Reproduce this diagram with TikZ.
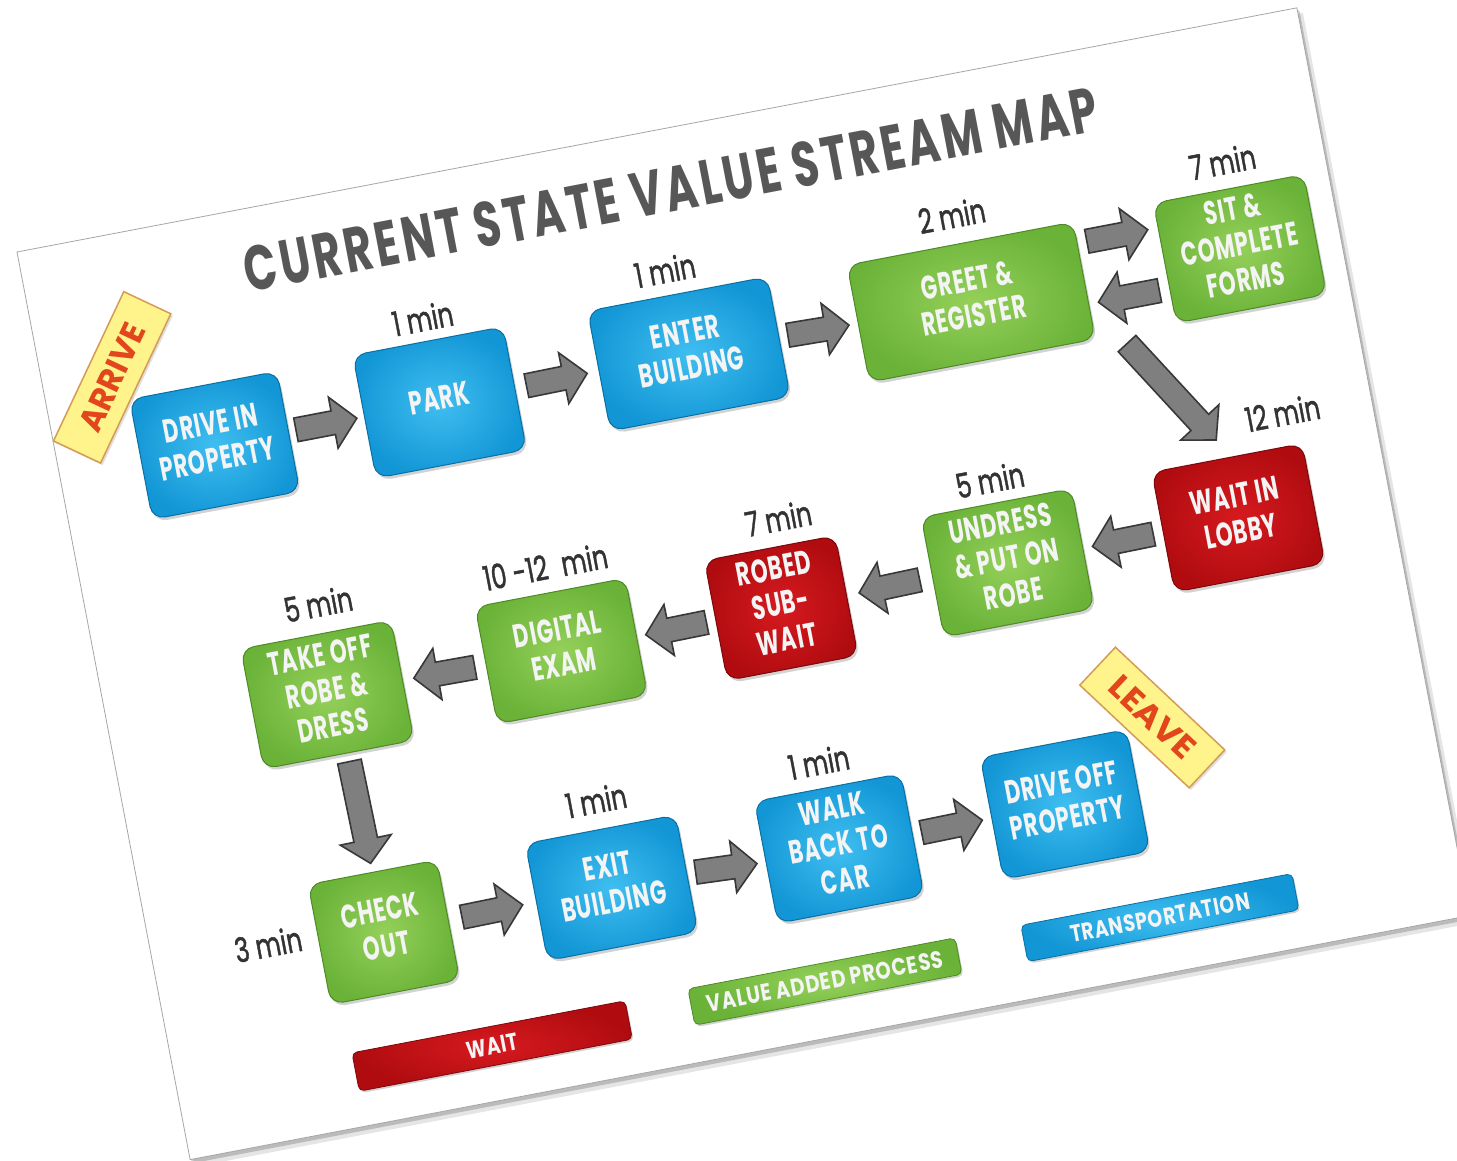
\documentclass[tikz,border=0pt]{standalone}
\usepackage{fontspec}
\setmainfont{Poppins}
\newfontfamily\boxfont{Poppins}[LetterSpace=4]
\newfontfamily\titlefont{Poppins}[LetterSpace=8]
\newfontfamily\lblfont{Poppins}[FakeBold=1.5]
\usepackage{graphicx}
\usetikzlibrary{calc,shadows}

\definecolor{bOut}{HTML}{1296D5}
\definecolor{bIn}{HTML}{3FBEF0}
\definecolor{bEdge}{HTML}{0A6FA3}
\definecolor{gOut}{HTML}{6AB238}
\definecolor{gIn}{HTML}{94D05A}
\definecolor{gEdge}{HTML}{4E8A25}
\definecolor{rOut}{HTML}{B00C10}
\definecolor{rIn}{HTML}{D61A1F}
\definecolor{rEdge}{HTML}{7A090B}
\definecolor{arrFill}{HTML}{7F7F7F}
\definecolor{arrEdge}{HTML}{383838}
\definecolor{tagFill}{HTML}{FFF48C}
\definecolor{tagEdge}{HTML}{D39B55}
\definecolor{tagText}{HTML}{E2461C}
\definecolor{titleGray}{HTML}{575757}
\definecolor{lblGray}{HTML}{333333}
\definecolor{boxText}{HTML}{F4F4F4}

\newcommand\bxt[1]{\scalebox{0.65}[1]{\begin{tabular}{@{}c@{}}#1\end{tabular}}}
\newcommand\lbt[1]{\scalebox{0.72}[1]{#1}}

\newcommand\blockarrow[2]{%
  \coordinate (bT) at #1;
  \coordinate (bP) at #2;
  \coordinate (bN) at ($(bP)!24pt!(bT)$);
  \filldraw[arrowsty] ($(bT)!12pt!90:(bP)$) -- ($(bN)!12pt!90:(bP)$) -- ($(bN)!26pt!90:(bP)$) -- (bP)
     -- ($(bN)!26pt!-90:(bP)$) -- ($(bN)!12pt!-90:(bP)$) -- ($(bT)!12pt!-90:(bP)$) -- cycle;}
\newcommand\conn[3]{%
  \coordinate (cM) at ($#1!0.5!#2$);
  \blockarrow{($(cM)!#3!#1$)}{($(cM)!#3!#2$)}}

\tikzset{
  arrowsty/.style={fill=arrFill, draw=arrEdge, line width=1.6pt, line join=miter},
  proc/.style={rounded corners=13pt, inner sep=0pt, minimum width=153pt, minimum height=122pt,
    text=boxText, font=\boxfont\fontsize{33}{36}\selectfont\bfseries, line width=1pt,
    drop shadow={shadow xshift=2pt, shadow yshift=-3pt, opacity=0.35}},
  bproc/.style={proc, draw=bEdge, shade, inner color=bIn, outer color=bOut},
  gproc/.style={proc, draw=gEdge, shade, inner color=gIn, outer color=gOut},
  rproc/.style={proc, draw=rEdge, shade, inner color=rIn, outer color=rOut},
  legbar/.style={rounded corners=5pt, inner sep=0pt, minimum width=276pt, minimum height=37pt,
    text=boxText, font=\boxfont\bfseries, line width=0.8pt,
    drop shadow={shadow xshift=1.5pt, shadow yshift=-2pt, opacity=0.35}},
  lbl/.style={text=lblGray, font=\lblfont\fontsize{34}{34}\selectfont, inner sep=0pt},
  tagsty/.style={draw=tagEdge, fill=tagFill, line width=1.5pt, minimum height=52pt, inner sep=0pt,
    text=tagText, font=\bfseries,
    drop shadow={shadow xshift=2pt, shadow yshift=-2pt, opacity=0.25}}
}

\begin{document}
\begin{tikzpicture}[x=1pt, y=-1pt]
\useasboundingbox (-17,-252) rectangle (1440,909);
\fill[white] (-17,-252) rectangle (1440,909);
\begin{scope}[rotate=10.8, transform shape]
  % card with shadow
  \fill[black, opacity=0.10] (3,6) rectangle (1308,932);
  \fill[black, opacity=0.18] (1,3) rectangle (1305,928);
  \draw[black!35, line width=0.8pt, fill=white] (0,0) rectangle (1303,924);

  % title
  \node[text=titleGray, inner sep=0pt] (title) at (654,61)
    {\resizebox{868pt}{45pt}{\titlefont\bfseries CURRENT STATE VALUE STREAM MAP}};

  % tags
  \node[tagsty, minimum width=165pt, rotate=54] (arrive) at (70,141) {\resizebox{115pt}{23pt}{ARRIVE}};
  \node[tagsty, minimum width=150pt, rotate=-54] (leave) at (1028,670) {\resizebox{105pt}{23pt}{LEAVE}};

  % process boxes
  \node[bproc, minimum width=150pt] (drivein) at (158,227) {\bxt{DRIVE IN\\PROPERTY}};
  \node[bproc, minimum height=125pt] (park) at (387,227) {\bxt{PARK}};
  \node[bproc, minimum width=183pt] (enter) at (641,226) {\bxt{ENTER\\BUILDING}};
  \node[gproc, minimum width=230pt, minimum height=119pt] (greet) at (928,228) {\bxt{GREET \&\\REGISTER}};
  \node[gproc] (sit) at (1202,226) {\bxt{SIT \&\\COMPLETE\\FORMS}};
  \node[rproc] (wait) at (1150,490) {\bxt{WAIT IN\\LOBBY}};
  \node[gproc] (undress) at (915,491) {\bxt{UNDRESS\\\& PUT ON\\ROBE}};
  \node[rproc, minimum width=133pt] (robed) at (684,493) {\bxt{ROBED\\SUB-\\WAIT}};
  \node[gproc, minimum height=119pt] (digital) at (460,494) {\bxt{DIGITAL\\EXAM}};
  \node[gproc] (takeoff) at (222,493) {\bxt{TAKE OFF\\ROBE \&\\DRESS}};
  \node[gproc, minimum width=131pt] (checkout) at (233,737) {\bxt{CHECK\\OUT}};
  \node[bproc, minimum height=119pt] (exit) at (465,736) {\bxt{EXIT\\BUILDING}};
  \node[bproc, minimum width=149pt, minimum height=124pt] (walk) at (696,740) {\bxt{WALK\\BACK TO\\CAR}};
  \node[bproc, minimum width=149pt, minimum height=124pt] (driveoff) at (926,739) {\bxt{DRIVE OFF\\PROPERTY}};

  % time labels
  \node[lbl] (tpark) at (386,141) {\lbt{1 min}};
  \node[lbl] (tenter) at (633,139) {\lbt{1 min}};
  \node[lbl] (tgreet) at (925,139) {\lbt{2 min}};
  \node[lbl] (tsit) at (1201,137) {\lbt{7 min}};
  \node[lbl] (twait) at (1213,395) {\lbt{12 min}};
  \node[lbl] (tundress) at (913,406) {\lbt{5 min}};
  \node[lbl] (trobed) at (698,404) {\lbt{7 min}};
  \node[lbl] (tdigital) at (460,408) {\lbt{10 -12\hspace{0.3em} min}};
  \node[lbl] (ttakeoff) at (230,402) {\lbt{5 min}};
  \node[lbl] (tcheck) at (117,727) {\lbt{3 min}};
  \node[lbl] (texit) at (466,647) {\lbt{1 min}};
  \node[lbl] (twalk) at (692,651) {\lbt{1 min}};

  % legend
  \node[legbar, draw=rEdge, shade, inner color=rIn, outer color=rOut, minimum width=278pt, minimum height=39pt] (lwait) at (318,869) {\resizebox{52pt}{17pt}{WAIT}};
  \node[legbar, draw=gEdge, shade, inner color=gIn, outer color=gOut, minimum width=272pt] (lvalue) at (657,868) {\resizebox{240pt}{17pt}{VALUE ADDED PROCESS}};
  \node[legbar, draw=bEdge, shade, inner color=bIn, outer color=bOut] (ltrans) at (998,868) {\resizebox{182pt}{17pt}{TRANSPORTATION}};

  % connectors
  \conn{(drivein.east)}{(park.west)}{31pt}
  \conn{(park.east)}{(enter.west)}{31pt}
  \conn{(enter.east)}{(greet.west)}{31pt}
  \coordinate (g1) at ($(greet.east)+(0,-38)$);
  \coordinate (s1) at ($(sit.west)+(0,-36)$);
  \conn{(g1)}{(s1)}{31pt}
  \coordinate (s2) at ($(sit.west)+(0,26)$);
  \coordinate (g2) at ($(greet.east)+(0,24)$);
  \conn{(s2)}{(g2)}{31pt}
  \coordinate (g3) at ($(greet.south east)+(30,10)$);
  \coordinate (w3) at ($(wait.north west)+(70,-19)$);
  \blockarrow{(g3)}{(w3)}
  \conn{(wait.west)}{(undress.east)}{31pt}
  \conn{(undress.west)}{(robed.east)}{31pt}
  \conn{(robed.west)}{(digital.east)}{31pt}
  \conn{(digital.west)}{(takeoff.east)}{31pt}
  \coordinate (t4) at ($(takeoff.south)+(9,0)$);
  \conn{(t4)}{(checkout.north)}{52pt}
  \conn{(checkout.east)}{(exit.west)}{31pt}
  \conn{(exit.east)}{(walk.west)}{31pt}
  \conn{(walk.east)}{(driveoff.west)}{31pt}
\end{scope}
\end{tikzpicture}
\end{document}
